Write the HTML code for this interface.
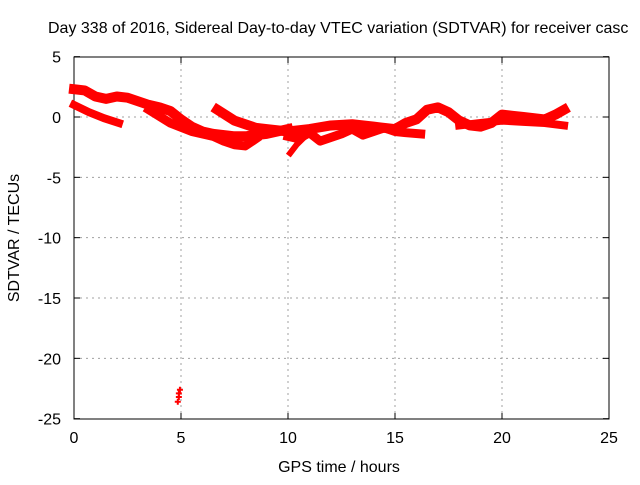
<!DOCTYPE html>
<html><head><meta charset="utf-8"><style>
body{margin:0;background:#fff;width:640px;height:480px;overflow:hidden}
svg text{font-family:"Liberation Sans",sans-serif;font-size:16px;fill:#000}
</style></head><body>
<svg width="640" height="480" id="c">
<text x="48" y="33" style="font-size:16px">Day 338 of 2016, Sidereal Day-to-day VTEC variation (SDTVAR) for receiver casc</text>
<g id="grid"></g>
<g id="axes"></g>
<g id="marks"></g>
<text x="339" y="472" text-anchor="middle">GPS time / hours</text>
<text transform="translate(19,238) rotate(-90)" text-anchor="middle">SDTVAR / TECUs</text>
</svg>
<script>
const xTicks=[0,5,10,15,20,25];
const yTicks=[5,0,-5,-10,-15,-20,-25];
const trackA_x=[0,0.5,1,1.5,2,2.5,3,3.5,4,4.5,5,5.5,6,6.5,7,7.5,8,8.5,9,9.5,10];
const trackA_y=[2.3,2.2,1.7,1.5,1.7,1.6,1.3,1.0,0.8,0.5,-0.2,-0.8,-1.2,-1.4,-1.5,-1.6,-1.6,-1.5,-1.4,-1.2,-1.0];
const trackB_x=[0,0.7,1.4,2.1];
const trackB_y=[1.0,0.4,-0.1,-0.5];
const trackC_x=[3.5,4.5,5.5,6.5,7,7.5,8,8.5];
const trackC_y=[0.6,-0.5,-1.2,-1.6,-2.0,-2.3,-2.4,-1.8];
const trackD_x=[6.7,7.5,8.5,9,10,11,12,13,14,15,15.5,16,16.5,17,17.5,18,18.5,19,19.5,20,20.5,21,21.5,22,22.5,22.9];
const trackD_y=[0.6,-0.3,-0.9,-1.0,-1.2,-1.0,-0.7,-0.6,-0.8,-1.0,-0.5,-0.2,0.6,0.8,0.4,-0.3,-0.7,-0.8,-0.5,0.2,0.1,0,-0.1,-0.2,0.2,0.6];
const trackE_x=[10,10.5,11,11.5,12,12.5,13,13.5,14,14.5,15,15.5,16.2];
const trackE_y=[-1.6,-1.8,-1.3,-2.0,-1.7,-1.4,-1.0,-1.5,-1.2,-0.9,-1.2,-1.3,-1.4];
const trackF_x=[10.1,10.4,10.8];
const trackF_y=[-3.0,-2.3,-1.6];
const trackG_x=[18,19,20,21,22,22.9];
const trackG_y=[-0.7,-0.5,-0.3,-0.4,-0.5,-0.7];
const outlier_x=[4.85,4.9,4.95,4.9];
const outlier_y=[-23.6,-23.2,-22.6,-22.9];
const X=v=>74+(v-0)*(609-74)/25;
const Y=v=>117-v*(419-57)/30;
const NS="http://www.w3.org/2000/svg";
function mk(t,p,a){const e=document.createElementNS(NS,t);for(const k in a)e.setAttribute(k,a[k]);p.appendChild(e);return e;}
const grid=document.getElementById('grid'),axes=document.getElementById('axes'),marks=document.getElementById('marks');
mk('rect',axes,{x:74,y:57,width:535,height:362,fill:'none',stroke:'#000','stroke-width':1});
xTicks.forEach(t=>{const x=X(t);
 if(t>0&&t<25){const l=mk('line',grid,{x1:x,x2:x,y1:57,y2:419,stroke:'#a0a0a0','stroke-dasharray':'2,4'});}
 mk('line',axes,{x1:x,x2:x,y1:419,y2:413,stroke:'#000'});mk('line',axes,{x1:x,x2:x,y1:57,y2:63,stroke:'#000'});
 const tx=mk('text',axes,{x:x,y:443,'text-anchor':'middle'});tx.textContent=t;
 });
yTicks.forEach(t=>{const y=Y(t);
 if(t<5&&t>-25){const l=mk('line',grid,{x1:74,x2:609,y1:y,y2:y,stroke:'#a0a0a0','stroke-dasharray':'2,4'});}
 mk('line',axes,{x1:74,x2:80,y1:y,y2:y,stroke:'#000'});mk('line',axes,{x1:609,x2:603,y1:y,y2:y,stroke:'#000'});
 const tx=mk('text',axes,{x:61,y:y+6,'text-anchor':'end'});tx.textContent=t;
 });
const tracks=[[trackA_x,trackA_y,10],[trackB_x,trackB_y,8],[trackC_x,trackC_y,9],[trackD_x,trackD_y,10],[trackE_x,trackE_y,9],[trackF_x,trackF_y,6],[trackG_x,trackG_y,8]];
tracks.forEach(([xs,ys,w],i)=>{
 const p=mk('polyline',marks,{points:xs.map((v,j)=>X(v)+','+Y(ys[j])).join(' '),fill:'none',stroke:'#f00','stroke-width':w,'stroke-linejoin':'round','stroke-linecap':'square'});
 
 
});
outlier_x.forEach((v,j)=>{const x=X(v),y=Y(outlier_y[j]);
 const g=mk('path',marks,{d:`M${x-3},${y}h6M${x},${y-3}v6`,stroke:'#f00','stroke-width':2});
 
 });
</script>
</body></html>
